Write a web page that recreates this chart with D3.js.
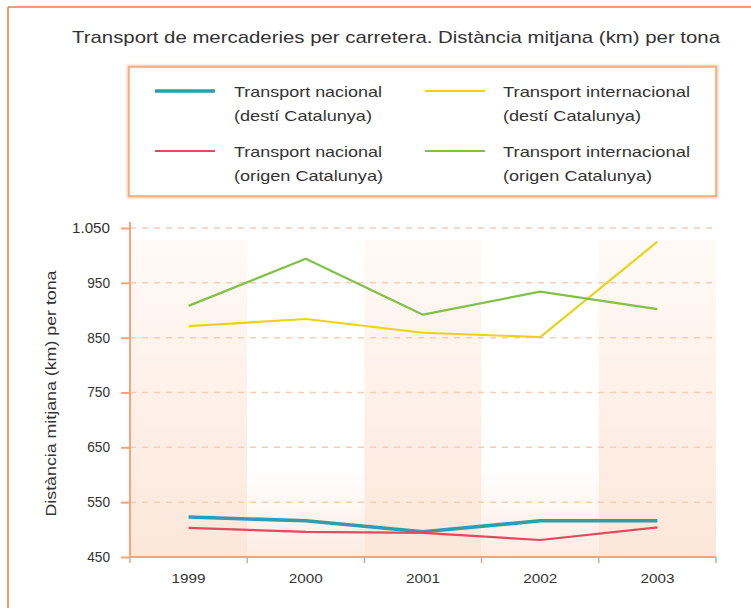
<!DOCTYPE html>
<html>
<head>
<meta charset="utf-8">
<script src="https://cdn.jsdelivr.net/npm/d3@7"></script>
<style>
  html, body { margin: 0; padding: 0; background: #ffffff; }
  svg { display: block; }
  text { font-family: "Liberation Sans", Arial, sans-serif; fill: #333; }
</style>
</head>
<body>
<svg id="chart" width="751" height="608"></svg>
<script>
// ---- data ----
const years = ["1999", "2000", "2001", "2002", "2003"];
const nacionalDesti = [523, 516, 496, 516, 516];
const nacionalOrigen = [503, 496, 494, 481, 504];
const internacionalDesti = [871, 884, 859, 851, 1025];
const internacionalOrigen = [908, 994, 892, 934, 902];
const yTicks = [450, 550, 650, 750, 850, 950, 1050];
const yTickLabels = ["450", "550", "650", "750", "850", "950", "1.050"];
const seriesNames = [
  ["Transport nacional", "(destí Catalunya)"],
  ["Transport nacional", "(origen Catalunya)"],
  ["Transport internacional", "(destí Catalunya)"],
  ["Transport internacional", "(origen Catalunya)"]
];
const title = "Transport de mercaderies per carretera. Distància mitjana (km) per tona";
const yTitle = "Distància mitjana (km) per tona";

const series = [
  { name: seriesNames[0], values: nacionalDesti, color: "#2f9cb0", width: 3.6 },
  { name: seriesNames[1], values: nacionalOrigen, color: "#e8475f", width: 2.2 },
  { name: seriesNames[2], values: internacionalDesti, color: "#ecd21c", width: 2.2 },
  { name: seriesNames[3], values: internacionalOrigen, color: "#80c148", width: 2.2 }
];

const svg = d3.select("#chart");
const axisCol = "#f2a57a";

// outer frame (top and left lines)
svg.append("line").attr("x1", 8).attr("x2", 751).attr("y1", 7).attr("y2", 7)
  .attr("stroke", "#ee7f3a").attr("stroke-width", 1.5);
svg.append("line").attr("x1", 8).attr("x2", 8).attr("y1", 7).attr("y2", 608)
  .attr("stroke", "#ee7f3a").attr("stroke-width", 1.5);

// title
svg.append("text").attr("x", 72).attr("y", 43)
  .attr("font-size", 17).attr("textLength", 648).attr("lengthAdjust", "spacingAndGlyphs")
  .attr("fill", "#2a2a2a").text(title);

// scales
const plot = { left: 130, right: 716, top: 228, bottom: 557 };
const x = d3.scaleBand().domain(years).range([plot.left, plot.right]);
const y = d3.scaleLinear().domain([450, 1050]).range([plot.bottom, plot.top]);
const cx = d => x(d) + x.bandwidth() / 2;

// gradients
const defs = svg.append("defs");
const g1 = defs.append("linearGradient").attr("id", "shade").attr("x1", 0).attr("x2", 0).attr("y1", 0).attr("y2", 1);
g1.append("stop").attr("offset", "0%").attr("stop-color", "#fffaf7");
g1.append("stop").attr("offset", "100%").attr("stop-color", "#fce7da");
const g2 = defs.append("linearGradient").attr("id", "light").attr("x1", 0).attr("x2", 0).attr("y1", 0).attr("y2", 1);
g2.append("stop").attr("offset", "0%").attr("stop-color", "#ffffff");
g2.append("stop").attr("offset", "72%").attr("stop-color", "#ffffff");
g2.append("stop").attr("offset", "100%").attr("stop-color", "#fdece2");
const glow = defs.append("filter").attr("id", "glow").attr("x", "-5%").attr("y", "-5%").attr("width", "110%").attr("height", "110%");
glow.append("feGaussianBlur").attr("stdDeviation", 1.2);

// background bands
svg.append("g").selectAll("rect").data(years).join("rect")
  .attr("x", d => x(d)).attr("width", x.bandwidth())
  .attr("y", 240).attr("height", plot.bottom - 240)
  .attr("fill", (d, i) => i % 2 === 0 ? "url(#shade)" : "url(#light)");

// gridlines
svg.append("g").selectAll("line").data(yTicks).join("line")
  .attr("x1", plot.left).attr("x2", plot.right)
  .attr("y1", d => y(d)).attr("y2", d => y(d))
  .attr("stroke", "#f9cdb1").attr("stroke-width", 1.5).attr("stroke-dasharray", "6,6");

// y axis
const yAxis = svg.append("g").attr("transform", `translate(${plot.left},0)`)
  .call(d3.axisLeft(y).tickValues(yTicks).tickFormat((d, i) => yTickLabels[i]).tickSize(9).tickPadding(11));
yAxis.select(".domain").attr("stroke", axisCol).attr("stroke-width", 2)
  .attr("d", `M0,${plot.top - 6}V${plot.bottom}`);
yAxis.selectAll(".tick line").attr("stroke", axisCol).attr("stroke-width", 2);
yAxis.selectAll(".tick text").attr("font-size", 14).attr("fill", "#3a3a3a")
  .attr("font-family", "'Liberation Sans', Arial, sans-serif")
  .attr("textLength", (d, i) => yTickLabels[i].length * 7.6).attr("lengthAdjust", "spacingAndGlyphs");

// x axis
const xAxis = svg.append("g").attr("transform", `translate(0,${plot.bottom})`)
  .call(d3.axisBottom(x).tickSize(0).tickPadding(17));
xAxis.select(".domain").attr("stroke", axisCol).attr("stroke-width", 2)
  .attr("d", `M${plot.left},0H${plot.right}`);
xAxis.selectAll(".tick text").attr("font-size", 13).attr("fill", "#3a3a3a")
  .attr("font-family", "'Liberation Sans', Arial, sans-serif")
  .attr("textLength", 34).attr("lengthAdjust", "spacingAndGlyphs");
// boundary tick marks
const bounds = years.map(d => x(d)).concat([plot.right]);
svg.append("g").selectAll("line").data(bounds).join("line")
  .attr("x1", d => d).attr("x2", d => d)
  .attr("y1", plot.bottom).attr("y2", plot.bottom + 6)
  .attr("stroke", axisCol).attr("stroke-width", 1.5);

// y title
svg.append("text")
  .attr("transform", `translate(56,${(270 + 517) / 2}) rotate(-90)`)
  .attr("text-anchor", "middle").attr("font-size", 15)
  .attr("textLength", 246).attr("lengthAdjust", "spacingAndGlyphs")
  .attr("fill", "#333").text(yTitle);

// lines
const line = d3.line().x((d, i) => cx(years[i])).y(d => y(d));
svg.append("g").selectAll("path").data(series).join("path")
  .attr("d", s => line(s.values))
  .attr("fill", "none")
  .attr("stroke", s => s.color)
  .attr("stroke-width", s => s.width)
  .attr("stroke-linejoin", "round");

// legend box
const lg = svg.append("g");
lg.append("rect").attr("x", 129).attr("y", 67).attr("width", 587).attr("height", 129)
  .attr("fill", "none").attr("stroke", "#f7c3a2").attr("stroke-width", 4).attr("filter", "url(#glow)");
lg.append("rect").attr("x", 129).attr("y", 67).attr("width", 587).attr("height", 129)
  .attr("fill", "#ffffff").attr("stroke", "#f4a577").attr("stroke-width", 1.5);

const legPos = [
  { lx: 155, tx: 234, ly: 91 },
  { lx: 155, tx: 234, ly: 151 },
  { lx: 425, tx: 503, ly: 91 },
  { lx: 425, tx: 503, ly: 151 }
];
const legWidths = [
  [148, 138], [148, 149], [187, 138], [187, 149]
];
const items = lg.selectAll("g.item").data(series).join("g").attr("class", "item");
items.append("line")
  .attr("x1", (s, i) => legPos[i].lx).attr("x2", (s, i) => legPos[i].lx + 60)
  .attr("y1", (s, i) => legPos[i].ly).attr("y2", (s, i) => legPos[i].ly)
  .attr("stroke", s => s.color).attr("stroke-width", s => s.width);
items.append("text")
  .attr("x", (s, i) => legPos[i].tx).attr("y", (s, i) => legPos[i].ly + 6)
  .attr("font-size", 15).attr("fill", "#333")
  .attr("textLength", (s, i) => legWidths[i][0]).attr("lengthAdjust", "spacingAndGlyphs")
  .text(s => s.name[0]);
items.append("text")
  .attr("x", (s, i) => legPos[i].tx).attr("y", (s, i) => legPos[i].ly + 30)
  .attr("font-size", 15).attr("fill", "#333")
  .attr("textLength", (s, i) => legWidths[i][1]).attr("lengthAdjust", "spacingAndGlyphs")
  .text(s => s.name[1]);
</script>
</body>
</html>
